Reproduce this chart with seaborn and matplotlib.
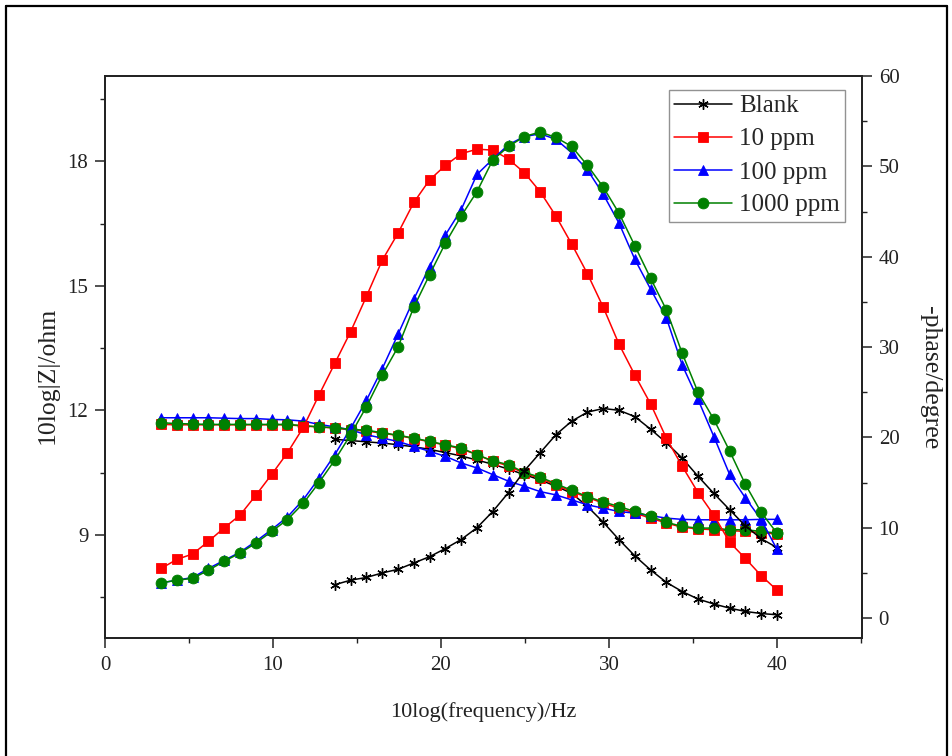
import matplotlib
matplotlib.use("Agg")
import matplotlib.pyplot as plt
import seaborn as sns
import pandas as pd
from matplotlib.lines import Line2D
from matplotlib.ticker import MultipleLocator

# 10log(frequency) grid shared by all measurements
log_freq = [3.34, 4.28, 5.22, 6.16, 7.10, 8.04, 8.98, 9.92, 10.86, 11.80,
            12.74, 13.68, 14.62, 15.56, 16.50, 17.44, 18.38, 19.32, 20.26, 21.20,
            22.14, 23.08, 24.02, 24.96, 25.90, 26.84, 27.78, 28.72, 29.66, 30.60,
            31.54, 32.48, 33.42, 34.36, 35.30, 36.24, 37.18, 38.12, 39.06, 40.00]

series_names = ["Blank", "10 ppm", "100 ppm", "1000 ppm"]

# Blank solution was only measured from the 12th frequency on
blank_start = 11

# 10log|Z| (ohm)
modulus_blank = [11.30, 11.27, 11.24, 11.21, 11.17, 11.12, 11.06, 10.98, 10.90, 10.80,
                 10.70, 10.58, 10.45, 10.32, 10.17, 10.00, 9.68, 9.30, 8.88, 8.49,
                 8.15, 7.85, 7.63, 7.45, 7.33, 7.23, 7.15, 7.10, 7.07]
modulus_10 = [11.66, 11.65, 11.65, 11.65, 11.65, 11.65, 11.65, 11.65, 11.65, 11.62,
              11.60, 11.57, 11.53, 11.50, 11.45, 11.39, 11.32, 11.24, 11.16, 11.07,
              10.93, 10.77, 10.66, 10.48, 10.36, 10.20, 10.04, 9.90, 9.76, 9.64,
              9.52, 9.40, 9.28, 9.18, 9.14, 9.12, 9.10, 9.08, 9.05, 9.02]
modulus_100 = [11.82, 11.82, 11.82, 11.82, 11.81, 11.80, 11.80, 11.78, 11.77, 11.74,
               11.66, 11.60, 11.53, 11.41, 11.33, 11.25, 11.13, 11.01, 10.89, 10.73,
               10.61, 10.45, 10.29, 10.17, 10.04, 9.96, 9.84, 9.72, 9.64, 9.56,
               9.52, 9.46, 9.40, 9.37, 9.36, 9.36, 9.36, 9.36, 9.37, 9.37]
modulus_1000 = [11.70, 11.68, 11.67, 11.66, 11.66, 11.66, 11.66, 11.66, 11.66, 11.63,
                11.60, 11.58, 11.54, 11.52, 11.46, 11.40, 11.33, 11.25, 11.17, 11.09,
                10.93, 10.78, 10.69, 10.50, 10.39, 10.23, 10.07, 9.92, 9.79, 9.68,
                9.56, 9.44, 9.30, 9.20, 9.16, 9.16, 9.12, 9.12, 9.08, 9.04]

# -phase (degree)
phase_blank = [3.7, 4.2, 4.5, 5.0, 5.4, 6.1, 6.8, 7.7, 8.7, 10.0,
               11.8, 13.9, 16.3, 18.3, 20.3, 21.8, 22.8, 23.2, 23.0, 22.3,
               20.9, 19.4, 17.7, 15.7, 13.8, 12.0, 10.2, 8.8, 7.8]
phase_10 = [5.5, 6.5, 7.1, 8.5, 10.0, 11.4, 13.6, 15.9, 18.3, 21.1,
            24.7, 28.2, 31.7, 35.6, 39.6, 42.6, 46.0, 48.5, 50.1, 51.4,
            51.9, 51.8, 50.8, 49.3, 47.2, 44.5, 41.4, 38.1, 34.4, 30.3,
            26.9, 23.7, 19.9, 16.8, 13.9, 11.4, 8.4, 6.6, 4.7, 3.1]
phase_100 = [3.9, 4.2, 4.5, 5.5, 6.4, 7.3, 8.5, 9.8, 11.2, 13.1,
             15.5, 18.1, 21.0, 24.1, 27.6, 31.4, 35.3, 38.9, 42.4, 45.2,
             49.1, 50.8, 52.4, 53.3, 53.6, 53.0, 51.5, 49.6, 46.9, 43.7,
             39.7, 36.4, 33.2, 28.0, 24.2, 20.1, 15.9, 13.3, 10.9, 7.6]
phase_1000 = [3.9, 4.2, 4.4, 5.3, 6.3, 7.2, 8.3, 9.6, 10.9, 12.7,
              15.0, 17.5, 20.3, 23.4, 26.9, 30.0, 34.4, 38.0, 41.5, 44.5,
              47.2, 50.7, 52.2, 53.3, 53.8, 53.2, 52.2, 50.1, 47.7, 44.8,
              41.2, 37.6, 34.1, 29.3, 25.0, 22.0, 18.5, 14.8, 11.7, 9.4]

x_by_series = [log_freq[blank_start:], log_freq, log_freq, log_freq]
modulus_by_series = [modulus_blank, modulus_10, modulus_100, modulus_1000]
phase_by_series = [phase_blank, phase_10, phase_100, phase_1000]

colors = ["black", "#ff0000", "#0000ff", "#008000"]
markers = [(6, 2, 0), "s", "^", "o"]
marker_sizes = [7.5, 6.8, 7.8, 7.8]

frames = []
for name, xs, zs, ps in zip(series_names, x_by_series, modulus_by_series, phase_by_series):
    frames.append(pd.DataFrame({"series": name, "log_freq": xs,
                                "modulus": zs, "phase": ps}))
data = pd.concat(frames, ignore_index=True)

sns.set_theme(style="white")
plt.rcParams["font.family"] = ["Liberation Serif", "DejaVu Serif"]

fig = plt.figure(figsize=(9.53, 7.56), dpi=100)
fig.patch.set_facecolor("white")
ax = fig.add_axes([105 / 953, 1 - 638 / 756, 757 / 953, 562 / 756])
ax2 = ax.twinx()

for name, color, marker, ms in zip(series_names, colors, markers, marker_sizes):
    sub = data[data["series"] == name]
    mew = 1.0 if name == "Blank" else 0.6
    sns.lineplot(data=sub, x="log_freq", y="modulus", ax=ax, color=color,
                 marker=marker, markersize=ms, markeredgecolor=color,
                 markeredgewidth=mew, linewidth=1.1, estimator=None,
                 sort=False, legend=False)
    sns.lineplot(data=sub, x="log_freq", y="phase", ax=ax2, color=color,
                 marker=marker, markersize=ms, markeredgecolor=color,
                 markeredgewidth=mew, linewidth=1.1, estimator=None,
                 sort=False, legend=False)

ax.set_xlim(0, 45.06)
ax.set_ylim(6.51, 20.06)
ax2.set_ylim(-2.2, 60)

ax.xaxis.set_major_locator(MultipleLocator(10))
ax.xaxis.set_minor_locator(MultipleLocator(5))
ax.yaxis.set_major_locator(MultipleLocator(3))
ax.yaxis.set_minor_locator(MultipleLocator(1.5))
ax.set_yticks([9, 12, 15, 18])
ax2.yaxis.set_major_locator(MultipleLocator(10))
ax2.yaxis.set_minor_locator(MultipleLocator(5))

tick_font = 15
for a in (ax, ax2):
    for side in a.spines.values():
        side.set_linewidth(1.3)
        side.set_color("#222222")
    a.tick_params(which="major", direction="out", length=7, width=1.1,
                  labelsize=tick_font, pad=5, colors="#222222")
    a.tick_params(which="minor", direction="out", length=3.5, width=1.0,
                  colors="#222222")
ax.tick_params(axis="x", which="both", top=False, bottom=True)
ax.tick_params(axis="y", which="both", left=True, right=False)
ax2.tick_params(axis="y", which="both", right=True, left=False)
ax.tick_params(axis="x", which="major", pad=6)

ax.set_xlabel("")
ax.set_ylabel("")
ax2.set_ylabel("")
fig.text(483 / 953, 1 - 712 / 756, "10log(frequency)/Hz", ha="center",
         va="center", fontsize=16, color="#222222")
fig.text(48 / 953, 1 - 375 / 756, "10log|Z|/ohm", ha="center", va="center",
         rotation=90, fontsize=18.5, color="#222222")
fig.text(930 / 953, 1 - 378 / 756, "-phase/degree", ha="center", va="center",
         rotation=270, fontsize=18.5, color="#222222")

handles = [Line2D([], [], color=c, marker=m, markersize=ms, markeredgecolor=c,
                  markeredgewidth=(1.0 if n == "Blank" else 0.6), linewidth=1.1)
           for n, c, m, ms in zip(series_names, colors, markers, marker_sizes)]
leg = ax2.legend(handles, series_names, loc="upper right",
                 bbox_to_anchor=(845 / 953, 1 - 90 / 756),
                 bbox_transform=fig.transFigure, borderaxespad=0,
                 fontsize=18, frameon=True, fancybox=False, shadow=False,
                 handlelength=2.3, handletextpad=0.3, labelspacing=0.42,
                 borderpad=0.2, markerscale=1.0)
leg.get_frame().set_edgecolor("#777777")
leg.get_frame().set_linewidth(1.0)

# outer frame of the figure
for xs, ys in [((6, 6), (756, 6)), ((6, 947), (6, 6)), ((947, 947), (6, 756))]:
    fig.add_artist(Line2D([v / 953 for v in xs], [1 - v / 756 for v in ys],
                          color="black", linewidth=1.6,
                          transform=fig.transFigure))

fig.savefig("out.png", dpi=100, facecolor="white")
